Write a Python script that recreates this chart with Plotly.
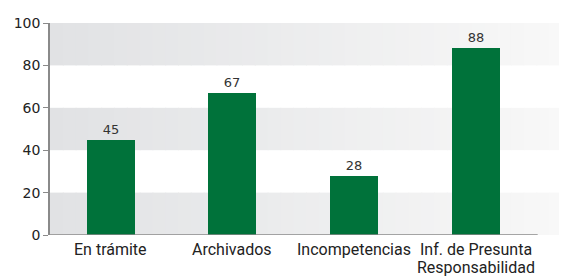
import plotly.graph_objects as go

categories = ["En trámite", "Archivados", "Incompetencias", "Inf. de Presunta<br>Responsabilidad"]
values = [45, 67, 28, 88]
y_ticks = [0, 20, 40, 60, 80, 100]
bands = [(0, 20), (40, 60), (80, 100)]

BAR = "#00723a"
x_lo, x_hi = -0.5, 3.71
idx = list(range(len(categories)))

fig = go.Figure()

fig.add_trace(go.Bar(
    x=idx, y=values, width=0.395, marker=dict(color=BAR, line=dict(width=0)),
    text=[str(v) for v in values], textposition="outside",
    textfont=dict(family="DejaVu Sans", size=13, color="#333333"),
    cliponaxis=False, showlegend=False))

# horizontal gradient bands built from thin stripes
c0 = (0xe1, 0xe2, 0xe4)
c1 = (0xf8, 0xf8, 0xf8)
N = 40
for lo, hi in bands:
    for i in range(N):
        t = i / (N - 1)
        col = "rgb(%d,%d,%d)" % tuple(round(a + (b - a) * t) for a, b in zip(c0, c1))
        fig.add_shape(type="rect", xref="paper", yref="y",
                      x0=i / N, x1=(i + 1) / N + 0.002, y0=lo, y1=hi,
                      fillcolor=col, line=dict(width=0), layer="below")

# bottom axis line (shorter than the bands)
fig.add_shape(type="line", xref="x", yref="y", x0=x_lo, x1=3.51, y0=0, y1=0,
              line=dict(color="#8a8a8a", width=1.5))

# category labels, one annotation per line for tighter line spacing
for i, cat in enumerate(categories):
    for j, line in enumerate(cat.split("<br>")):
        fig.add_annotation(x=i, y=0, xref="x", yref="y", text=line,
                           showarrow=False, yanchor="top", xanchor="center",
                           yshift=-4 - 18 * j, borderpad=0,
                           font=dict(family="Roboto", size=16, color="#222222"))

# page body has an 8px margin, so the figure is sized to fit the window
fig.update_layout(
    width=559, height=271,
    margin=dict(l=42, r=5, t=15, b=44),
    paper_bgcolor="white", plot_bgcolor="white",
    bargap=0,
    xaxis=dict(range=[x_lo, x_hi], tickvals=idx, showticklabels=False,
               showgrid=False, zeroline=False, showline=False, ticks=""),
    yaxis=dict(range=[0, 100], tickvals=y_ticks, showgrid=False, zeroline=False,
               showline=True, linecolor="#8a8a8a", linewidth=1.5,
               ticks="outside", ticklen=5, tickcolor="#8a8a8a",
               tickfont=dict(family="DejaVu Sans", size=14, color="#222222")),
)

fig.write_html("out.html")
